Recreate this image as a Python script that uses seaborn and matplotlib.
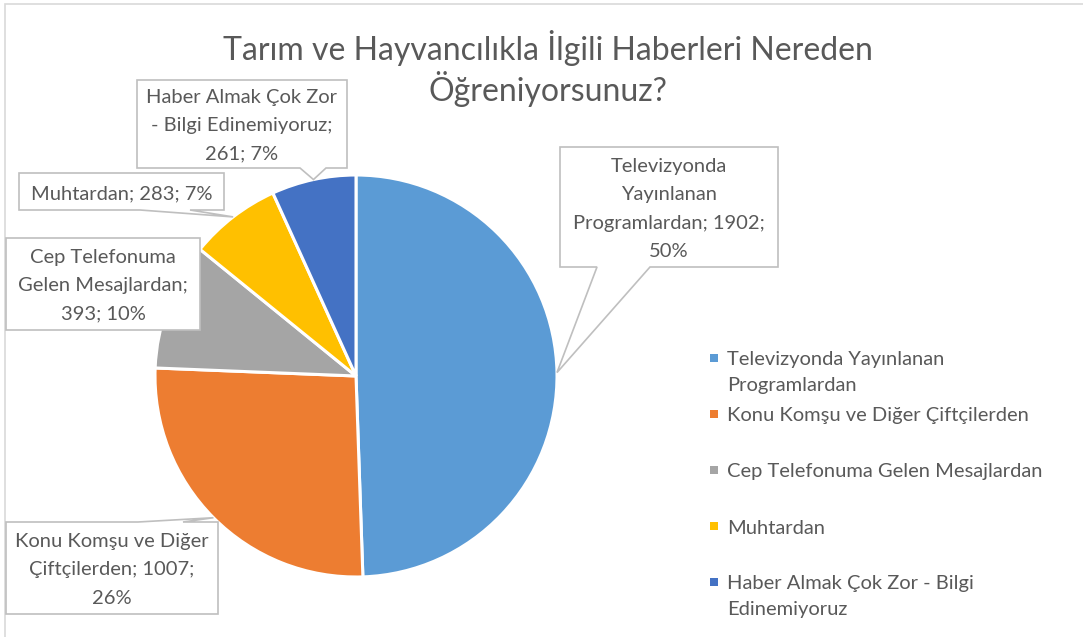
import textwrap
import numpy as np
import matplotlib
matplotlib.use("Agg")
import matplotlib.pyplot as plt
from matplotlib.patches import Polygon, Rectangle
import seaborn as sns

# ---- data ----
categories = [
    "Televizyonda Yayınlanan Programlardan",
    "Konu Komşu ve Diğer Çiftçilerden",
    "Cep Telefonuma Gelen Mesajlardan",
    "Muhtardan",
    "Haber Almak Çok Zor - Bilgi Edinemiyoruz",
]
counts = [1902, 1007, 393, 283, 261]
percent_labels = [50, 26, 10, 7, 7]
title_lines = ["Tarım ve Hayvancılıkla İlgili Haberleri Nereden", "Öğreniyorsunuz?"]

colors = sns.color_palette(["#5B9BD5", "#ED7D31", "#A5A5A5", "#FFC000", "#4472C4"])

sns.set_theme(style="white")
plt.rcParams["font.family"] = ["Lato", "DejaVu Sans"]

W, H = 1083, 637
fig = plt.figure(figsize=(W / 100, H / 100), dpi=100)
ax = fig.add_axes([0, 0, 1, 1])

TXT = "#595959"
EDGE = "#BFBFBF"
FS = 14.5


def Y(y):
    """image-style y (top down) to axes y"""
    return H - y


def lines_at(x, ys, lines, ha, **kw):
    for yy, s in zip(ys, lines):
        ax.text(x, Y(yy), s, ha=ha, va="center", color=TXT, **kw)


# chart border
ax.add_patch(Rectangle((5, Y(700)), 1200, 696, fill=False, ec="#D9D9D9", lw=1.2, zorder=0))

cx, cy, r = 356, 376, 201
wedges, _ = ax.pie(
    counts, colors=colors, startangle=90, counterclock=False,
    center=(cx, Y(cy)), radius=r,
    wedgeprops=dict(edgecolor="white", linewidth=2.2),
)
ax.set_xlim(0, W)
ax.set_ylim(0, H)
ax.set_aspect("auto")
ax.axis("off")

lines_at(548, [48, 89], title_lines, "center", fontsize=23)


def wrap(s, width):
    s = s.replace(" - ", " -\u00a0")
    return textwrap.wrap(s, width, break_on_hyphens=False)


# callout boxes: (x0, y0, x1, y1), pointer side, pointer base, wrap width
boxes = [
    ((560, 147, 778, 267), "bottom", (597, 650), 22),
    ((6, 522, 218, 614), "top", (138, 183), 20),
    ((6, 238, 200, 330), None, None, 18),
    ((19, 173, 224, 210), "bottom", (140, 190), 30),
    ((137, 80, 347, 168), "bottom", (300, 326), 21),
]

for w, cat, n, p, (box, side, base, ww) in zip(wedges, categories, counts,
                                                percent_labels, boxes):
    mid = np.deg2rad((w.theta1 + w.theta2) / 2)
    ax_pt = (cx + r * np.cos(mid), Y(cy) + r * np.sin(mid))
    x0, y0, x1, y1 = box
    if side == "bottom":
        pts = [(x0, y0), (x1, y0), (x1, y1), (base[1], y1), None, (base[0], y1), (x0, y1)]
    elif side == "top":
        pts = [(x0, y0), (base[0], y0), None, (base[1], y0), (x1, y0), (x1, y1), (x0, y1)]
    else:
        pts = [(x0, y0), (x1, y0), (x1, y1), (x0, y1)]
    verts = [ax_pt if q is None else (q[0], Y(q[1])) for q in pts]
    ax.add_patch(Polygon(verts, closed=True, fc="white", ec=EDGE, lw=1.2, zorder=5))
    lines = wrap(f"{cat}; {n}; {p}%", ww)
    yc = (y0 + y1) / 2 + 2
    ys = [yc + 28.3 * (k - (len(lines) - 1) / 2) for k in range(len(lines))]
    lines_at((x0 + x1) / 2, ys, lines, "center", fontsize=FS, zorder=6)

# legend
lx, ly, step = 714, 358, 56
for i, (cat, c) in enumerate(zip(categories, colors)):
    yy = ly + i * step
    ax.scatter([lx], [Y(yy)], marker="s", s=40, color=c, zorder=6, linewidths=0)
    lines = wrap(cat, 32)
    lines_at(lx + 13, [yy + 2 + 26 * k for k in range(len(lines))], lines, "left",
             fontsize=FS, zorder=6)

fig.savefig("out.png", dpi=100, facecolor="white")
